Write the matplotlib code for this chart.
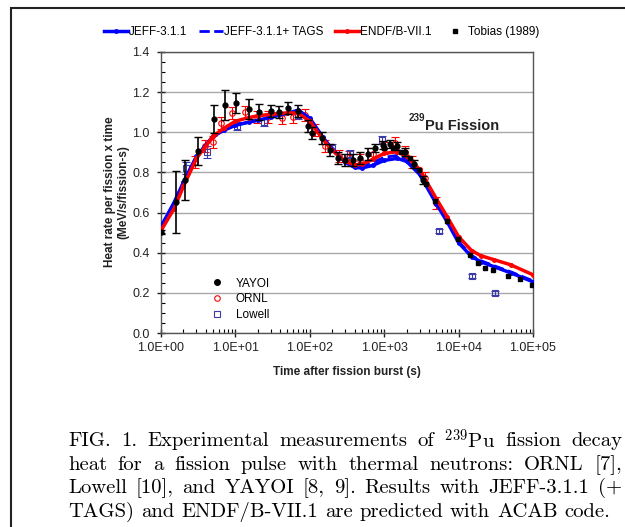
import numpy as np
import matplotlib
matplotlib.use('Agg')
import matplotlib.pyplot as plt
from matplotlib.lines import Line2D
from matplotlib.patches import Rectangle
from matplotlib.ticker import FuncFormatter, MultipleLocator, LogLocator

plt.rcParams['mathtext.fontset'] = 'cm'
plt.rcParams['font.family'] = ['Liberation Sans', 'DejaVu Sans']

# model curves
t_model = [1, 1.5, 2, 3, 5, 7, 10, 15, 20, 30, 50, 70, 100, 150, 200, 300, 400, 500,
           700, 1000, 1500, 2000, 3000, 5000, 7000, 10000, 15000, 20000, 30000, 50000, 100000]
jeff = [0.53, 0.65, 0.75, 0.88, 0.98, 1.01, 1.035, 1.05, 1.06, 1.075, 1.095, 1.11, 1.07, 0.975,
        0.915, 0.85, 0.825, 0.822, 0.835, 0.86, 0.87, 0.855, 0.79, 0.645, 0.555, 0.45, 0.38,
        0.355, 0.33, 0.30, 0.255]
jeff_tags = [0.53, 0.65, 0.75, 0.88, 0.98, 1.01, 1.035, 1.05, 1.06, 1.075, 1.095, 1.11, 1.07, 0.975,
             0.918, 0.855, 0.835, 0.835, 0.85, 0.875, 0.885, 0.87, 0.80, 0.65, 0.56, 0.455, 0.385,
             0.36, 0.335, 0.305, 0.26]
endf = [0.51, 0.62, 0.73, 0.87, 0.98, 1.02, 1.055, 1.073, 1.082, 1.09, 1.097, 1.095, 1.055, 0.965,
        0.91, 0.855, 0.838, 0.84, 0.865, 0.895, 0.903, 0.88, 0.815, 0.67, 0.58, 0.48, 0.41,
        0.385, 0.365, 0.34, 0.29]

# YAYOI
t_yayoi = [1.0, 1.58, 2.1, 3.1, 5.15, 7.2, 10.2, 15.4, 20.7, 30, 38, 51, 70, 95, 106, 144, 187,
           240, 300, 380, 480, 600, 750, 950, 1200, 1500, 1900, 2500, 3300]
y_yayoi = [0.505, 0.654, 0.762, 0.908, 1.065, 1.136, 1.147, 1.115, 1.10, 1.107, 1.10, 1.12, 1.108,
           1.03, 0.995, 0.97, 0.91, 0.87, 0.86, 0.86, 0.87, 0.89, 0.92, 0.935, 0.94, 0.93, 0.90,
           0.84, 0.76]
e_yayoi = [0.01, 0.155, 0.10, 0.07, 0.07, 0.075, 0.05, 0.05, 0.04, 0.03, 0.03, 0.03, 0.03, 0.03,
           0.03, 0.03, 0.03, 0.03, 0.03, 0.03, 0.03, 0.03, 0.02, 0.02, 0.02, 0.02, 0.02, 0.02, 0.02]

# Tobias (1989)
t_tobias = [1000, 1300, 1700, 2200, 2900, 3700, 4800, 6900, 9800, 14200, 18300, 22600, 29000,
            46000, 66000, 96000]
y_tobias = [0.92, 0.92, 0.90, 0.87, 0.81, 0.74, 0.66, 0.56, 0.47, 0.39, 0.35, 0.324, 0.314,
            0.284, 0.27, 0.24]

# ORNL
t_ornl = [2.86, 3.9, 5, 6.5, 8.9, 13.5, 19.3, 27.5, 42, 60, 86, 117, 160, 250, 340, 480, 700,
          1000, 1400, 1900, 2400, 3500, 5000]
y_ornl = [0.853, 0.93, 0.95, 1.046, 1.096, 1.10, 1.078, 1.078, 1.07, 1.078, 1.086, 1.01, 0.93,
          0.88, 0.877, 0.86, 0.89, 0.92, 0.947, 0.90, 0.85, 0.77, 0.65]
e_ornl = [0.03] * len(t_ornl)

# Lowell
t_lowell = [2.2, 4.2, 10.5, 24, 70, 200, 350, 930, 5400, 15000, 31000]
y_lowell = [0.82, 0.90, 1.03, 1.05, 1.086, 0.92, 0.89, 0.96, 0.51, 0.285, 0.20]
e_lowell = [0.03, 0.03, 0.02, 0.02, 0.02, 0.02, 0.02, 0.02, 0.01, 0.01, 0.01]

caption = [
    r"FIG. 1.  Experimental measurements of $^{239}$Pu fission decay",
    "heat for a fission pulse with thermal neutrons: ORNL [7],",
    "Lowell [10], and YAYOI [8, 9]. Results with JEFF-3.1.1 (+",
    "TAGS) and ENDF/B-VII.1 are predicted with ACAB code.",
]

W, H = 625, 527
fig = plt.figure(figsize=(W / 100, H / 100), dpi=100)
ax = fig.add_axes([161 / W, 1 - 333 / H, 372 / W, 281 / H])

blue = '#0000ff'
red = '#ff0000'
lblue = '#3a3aa8'
txt = '#222222'

ax.errorbar(t_ornl, y_ornl, yerr=e_ornl, fmt='o', mfc='none', mec=red, ecolor=red,
            ms=4, mew=0.8, capsize=3, elinewidth=0.8, zorder=3)
ax.errorbar(t_lowell, y_lowell, yerr=e_lowell, fmt='s', mfc='none', mec=lblue, ecolor=lblue,
            ms=4, mew=0.8, capsize=3, elinewidth=0.8, zorder=3)

ax.plot(t_model, jeff, '-', color=blue, lw=2.5, marker='o', ms=2.5, zorder=4)
ax.plot(t_model, jeff_tags, '--', color=blue, lw=2, zorder=4)
ax.plot(t_model, endf, '-', color=red, lw=2.5, marker='o', ms=2.5, zorder=5)

ax.errorbar(t_yayoi, y_yayoi, yerr=e_yayoi, fmt='o', color='black', ms=3.5,
            capsize=3, elinewidth=1.2, zorder=6)
ax.plot(t_tobias, y_tobias, 's', color='black', ms=3.5, zorder=6)

ax.set_xscale('log')
ax.set_xlim(1, 1e5)
ax.set_ylim(0, 1.4)
ax.yaxis.set_major_locator(MultipleLocator(0.2))
ax.yaxis.set_minor_locator(MultipleLocator(0.05))
ax.yaxis.set_major_formatter(FuncFormatter(lambda v, p: f"{v:.1f}"))
ax.xaxis.set_major_locator(LogLocator(base=10, numticks=10))
ax.xaxis.set_minor_locator(LogLocator(base=10, subs=np.arange(2, 10), numticks=10))
ax.xaxis.set_major_formatter(FuncFormatter(lambda v, p: f"{v:.1E}"))
ax.grid(axis='y', which='major', color='#a8a8a8', lw=1)
ax.set_axisbelow(True)
ax.tick_params(which='major', direction='inout', length=6, width=1, labelsize=9, colors=txt)
ax.tick_params(axis='y', which='major', pad=5)
ax.tick_params(which='minor', direction='in', length=3, width=0.8)
for s in ax.spines.values():
    s.set_color('#555555')
    s.set_linewidth(1)

fig.text(117 / W, 1 - 192 / H, "Heat rate per fission x time\n(MeV/s/fission-s)", rotation=90,
         ha='center', va='center', fontsize=8.5, fontweight='bold', color=txt,
         linespacing=1.15)
fig.text(347 / W, 1 - 372 / H, "Time after fission burst (s)", ha='center', va='center',
         fontsize=8.5, fontweight='bold', color=txt)
fig.text(409 / W, 1 - 118 / H, "239", ha='left', va='center', fontsize=7, fontweight='bold',
         color=txt)
fig.text(425 / W, 1 - 126 / H, "Pu Fission", ha='left', va='center', fontsize=10.5,
         fontweight='bold', color=txt)

top_handles = [
    Line2D([0, 0.5, 1], [0, 0, 0], color=blue, lw=2.5, marker='o', ms=2.5, markevery=[1]),
    Line2D([], [], color=blue, lw=2, ls='--'),
    Line2D([0, 0.5, 1], [0, 0, 0], color=red, lw=2.5, marker='o', ms=2.5, markevery=[1]),
    Line2D([], [], color='black', ls='none', marker='s', ms=3.5),
]
fig.legend(top_handles, ["JEFF-3.1.1", "JEFF-3.1.1+ TAGS", "ENDF/B-VII.1", "Tobias (1989)"],
           loc='center', bbox_to_anchor=(322 / W, 1 - 32 / H), ncol=4, frameon=False,
           fontsize=8.5, handlelength=2.0, handletextpad=0.1, columnspacing=1.0)

in_handles = [
    Line2D([], [], color='black', ls='none', marker='o', ms=4),
    Line2D([], [], color=red, ls='none', marker='o', mfc='none', ms=4, mew=0.8),
    Line2D([], [], color=lblue, ls='none', marker='s', mfc='none', ms=4, mew=0.8),
]
ax.legend(in_handles, ["YAYOI", "ORNL", "Lowell"], loc='upper left',
          bbox_to_anchor=(0.09, 0.235), frameon=False, fontsize=8.5, handletextpad=0.6,
          labelspacing=0.3)

# page frame
fig.add_artist(Rectangle((11 / W, -0.2), 1.2, 1.2 - 8 / H, transform=fig.transFigure,
                         fill=False, lw=1.5, ec=txt, clip_on=False))

# caption, justified
cap_font = dict(fontsize=14.9, family=['cmr10', 'DejaVu Serif'], color='black')
fig.canvas.draw()
r = fig.canvas.get_renderer()
x0, x1 = 68, 622
for i, line in enumerate(caption):
    y = 1 - (441 + 23.7 * i) / H
    words = line.split()
    widths = []
    for w in words:
        t = fig.text(0, 0, w, **cap_font)
        widths.append(t.get_window_extent(r).width)
        t.remove()
    sp = fig.text(0, 0, "a a", **cap_font)
    natural = sp.get_window_extent(r).width
    sp.remove()
    a = fig.text(0, 0, "aa", **cap_font)
    natural -= a.get_window_extent(r).width
    a.remove()
    if i < len(caption) - 1:
        gap = (x1 - x0 - sum(widths)) / (len(words) - 1)
    else:
        gap = natural
    x = x0
    for w, wd in zip(words, widths):
        fig.text(x / W, y, w, va='center', ha='left', **cap_font)
        x += wd + gap

fig.savefig('out.png', dpi=100)
